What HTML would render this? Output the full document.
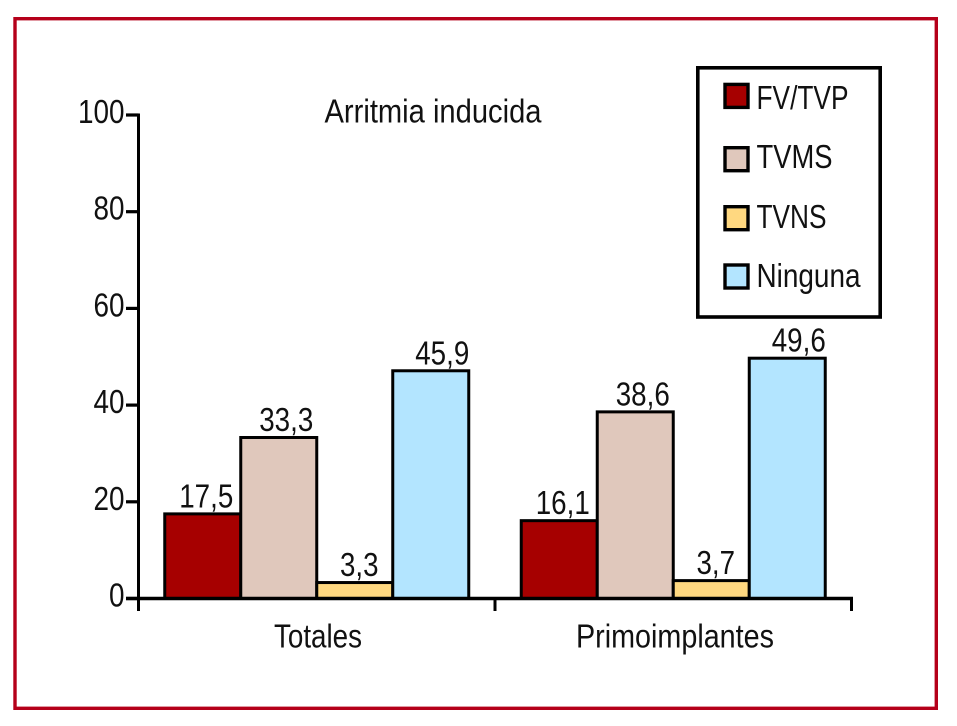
<!DOCTYPE html>
<html lang="es">
<head>
<meta charset="utf-8">
<title>Arritmia inducida</title>
<style>
html,body{margin:0;padding:0;background:#fff;}
svg{display:block;}
text{font-family:"Liberation Sans",sans-serif;fill:#111;}
</style>
</head>
<body>
<svg id="chart" xmlns="http://www.w3.org/2000/svg" width="957" height="726" viewBox="0 0 957 726">
  <rect x="0" y="0" width="957" height="726" fill="#fff"/>
  <rect x="15" y="18.7" width="921.3" height="689.6" fill="none" stroke="#b5001a" stroke-width="3.4"/>
</svg>
<script>
const categories = ['Totales', 'Primoimplantes'];
const seriesNames = ['FV/TVP', 'TVMS', 'TVNS', 'Ninguna'];
const fvTvpValues = [17.5, 16.1];
const tvmsValues = [33.3, 38.6];
const tvnsValues = [3.3, 3.7];
const ningunaValues = [47.1, 49.7];
const fvTvpLabels = ['17,5', '16,1'];
const tvmsLabels = ['33,3', '38,6'];
const tvnsLabels = ['3,3', '3,7'];
const ningunaLabels = ['45,9', '49,6'];
const yTicks = [0, 20, 40, 60, 80, 100];
const chartTitle = 'Arritmia inducida';

const seriesValues = [fvTvpValues, tvmsValues, tvnsValues, ningunaValues];
const seriesLabels = [fvTvpLabels, tvmsLabels, tvnsLabels, ningunaLabels];
const seriesColors = ['#a60000', '#e0c8bc', '#ffd880', '#b3e5ff'];

const svg = document.getElementById('chart');
const NS = 'http://www.w3.org/2000/svg';
const plot = {left: 138.5, right: 851.5, y0: 598.5, y100: 115};
const groupWidth = (plot.right - plot.left) / categories.length;
const barWidth = 76;
const labelFont = 33;

function yScale(v) {
  return plot.y0 - (v / 100) * (plot.y0 - plot.y100);
}
function groupCenter(i) {
  return plot.left + groupWidth * (i + 0.5);
}
function barLeft(g, s) {
  return groupCenter(g) - barWidth * seriesNames.length / 2 + barWidth * s;
}
function labelShift(s) {
  if (s === 0) return 3.5;
  if (s === 1) return 7.5;
  if (s === 2) return 4.5;
  return 11.5;
}
function make(tag, attrs, parent) {
  const el = document.createElementNS(NS, tag);
  for (const k in attrs) el.setAttribute(k, attrs[k]);
  (parent || svg).appendChild(el);
  return el;
}
function label(str, x, y, size, width, anchor) {
  const el = make('text', {
    x: x, y: y, 'font-size': size, 'text-anchor': anchor,
    textLength: width, lengthAdjust: 'spacingAndGlyphs'
  });
  el.textContent = str;
  return el;
}
function numberWidth(str) {
  let w = 0;
  for (const c of str) w += (c === ',') ? 7.5 : 15.5;
  return w;
}

// bars and value labels
seriesNames.forEach(function (name, s) {
  categories.forEach(function (cat, g) {
    const v = seriesValues[s][g];
    const x = barLeft(g, s);
    const top = yScale(v);
    const bar = make('rect', {
      x: x, y: top, width: barWidth, height: plot.y0 - top,
      fill: seriesColors[s], stroke: '#000', 'stroke-width': 3
    });
    
    

    const str = seriesLabels[s][g];
    const t = label(str, x + barWidth / 2 + labelShift(s), top - 6.5, labelFont, numberWidth(str), 'middle');
    
    
  });
});

// axes
const yAxis = make('line', {x1: plot.left, y1: plot.y100 - 1.5, x2: plot.left, y2: 611, stroke: '#000', 'stroke-width': 3});



const xAxis = make('line', {x1: plot.left - 12.5, y1: plot.y0, x2: plot.right + 1.5, y2: plot.y0, stroke: '#000', 'stroke-width': 3.4});



yTicks.forEach(function (v) {
  const y = yScale(v);
  const tick = make('line', {x1: plot.left - 12.5, y1: y, x2: plot.left, y2: y, stroke: '#000', 'stroke-width': 3.2});
  
  

  const str = String(v);
  const t = label(str, plot.left - 14, y + 8, labelFont, str.length * 15.5, 'end');
  
  
});

for (let i = 0; i <= categories.length; i++) {
  const x = plot.left + groupWidth * i;
  const tick = make('line', {x1: x, y1: plot.y0, x2: x, y2: 611, stroke: '#000', 'stroke-width': 3});
  
  
}

// category labels
const catStarts = [274, 576];
const catWidths = [88, 198];
categories.forEach(function (cat, g) {
  const t = label(cat, catStarts[g], 647.5, labelFont, catWidths[g], 'start');
  
  
});

// title
const titleEl = label(chartTitle, 324.5, 122.5, labelFont, 217, 'start');



// legend
const legendBox = make('rect', {x: 697.8, y: 67.8, width: 182.4, height: 249.2, fill: '#fff', stroke: '#000', 'stroke-width': 3.6});



const legendTops = [84.4, 147.7, 206.7, 265];
const legendBaselines = [109, 168, 228, 287];
const legendWidths = [92, 76, 70, 104];
seriesNames.forEach(function (name, s) {
  const swatch = make('rect', {
    x: 725, y: legendTops[s], width: 23, height: 23,
    fill: seriesColors[s], stroke: '#000', 'stroke-width': 3.4
  });
  
  

  const t = label(name, 756.5, legendBaselines[s], labelFont, legendWidths[s], 'start');
  
  
});
</script>
</body>
</html>
